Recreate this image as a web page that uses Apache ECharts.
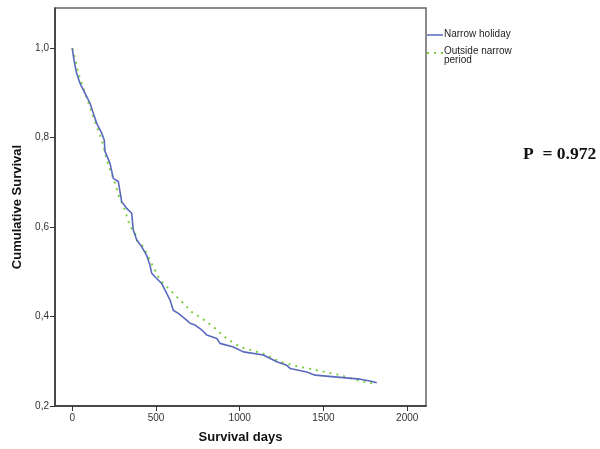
<!DOCTYPE html>
<html>
<head>
<meta charset="utf-8">
<script src="https://cdn.jsdelivr.net/npm/echarts@6/dist/echarts.min.js"></script>
<style>
  html, body { margin: 0; padding: 0; background: #fff; }
  #main { width: 600px; height: 449px; }
</style>
</head>
<body>
<div id="main"></div>
<script>
// survival curves
var daysNarrow = [0, 10, 26, 46, 66, 86, 106, 125, 146, 176, 191, 195, 225, 245, 275, 295, 325, 355, 364, 385, 415, 444, 464, 474, 494, 534, 554, 584, 603, 633, 683, 703, 733, 773, 803, 863, 882, 962, 1022, 1141, 1221, 1281, 1301, 1400, 1450, 1599, 1719, 1778, 1818];
var survNarrow = [1.0, 0.974, 0.944, 0.922, 0.907, 0.892, 0.877, 0.855, 0.832, 0.810, 0.795, 0.770, 0.743, 0.709, 0.702, 0.657, 0.642, 0.631, 0.594, 0.571, 0.556, 0.537, 0.515, 0.497, 0.489, 0.474, 0.459, 0.437, 0.414, 0.407, 0.392, 0.385, 0.381, 0.370, 0.359, 0.351, 0.340, 0.332, 0.321, 0.314, 0.299, 0.291, 0.284, 0.276, 0.269, 0.264, 0.260, 0.256, 0.252];

var daysOutside = [0, 26, 36, 52, 66, 146, 165, 179, 215, 235, 265, 275, 315, 329, 345, 375, 385, 424, 484, 524, 564, 603, 643, 683, 723, 763, 842, 922, 1002, 1141, 1241, 1330, 1460, 1599, 1699, 1798];
var survOutside = [1.0, 0.963, 0.944, 0.926, 0.911, 0.825, 0.806, 0.791, 0.739, 0.720, 0.687, 0.672, 0.638, 0.620, 0.602, 0.586, 0.571, 0.556, 0.511, 0.482, 0.467, 0.452, 0.437, 0.422, 0.407, 0.399, 0.377, 0.351, 0.332, 0.317, 0.299, 0.290, 0.280, 0.269, 0.258, 0.250];

var xTicks = [0, 500, 1000, 1500, 2000];
var yTicks = [0.2, 0.4, 0.6, 0.8, 1.0];

function pairs(xs, ys) {
  var out = [];
  for (var i = 0; i < xs.length; i++) out.push([xs[i], ys[i]]);
  return out;
}

var chart = echarts.init(document.getElementById('main'));

chart.setOption({
  backgroundColor: '#ffffff',
  animation: false,
  textStyle: { fontFamily: 'Liberation Sans, Arial, sans-serif' },
  grid: {
    left: 55,
    top: 8,
    right: 174,
    bottom: 43,
    show: true,
    borderColor: '#666',
    borderWidth: 1.5
  },
  xAxis: {
    type: 'value',
    min: -103,
    max: 2112,
    name: 'Survival days',
    nameLocation: 'middle',
    nameGap: 25,
    nameTextStyle: { fontSize: 13, fontWeight: 'bold', color: '#111' },
    axisLine: { show: true, onZero: false, lineStyle: { color: '#333', width: 1.5 } },
    axisTick: { show: true, length: 5, customValues: xTicks, lineStyle: { color: '#333' } },
    axisLabel: {
      customValues: xTicks,
      fontSize: 10,
      color: '#333',
      margin: 7,
      formatter: function (v) { return String(v); }
    },
    splitLine: { show: false }
  },
  yAxis: {
    type: 'value',
    min: 0.2,
    max: 1.09,
    name: 'Cumulative Survival',
    nameLocation: 'middle',
    nameGap: 31,
    nameTextStyle: { fontSize: 13, fontWeight: 'bold', color: '#111' },
    axisLine: { show: true, onZero: false, lineStyle: { color: '#333', width: 1.5 } },
    axisTick: { show: true, length: 5, customValues: yTicks, lineStyle: { color: '#333' } },
    axisLabel: {
      customValues: yTicks,
      fontSize: 10,
      color: '#333',
      margin: 6,
      formatter: function (v) { return v.toFixed(1).replace('.', ','); }
    },
    splitLine: { show: false }
  },
  series: [
    {
      name: 'Narrow holiday',
      type: 'line',
      showSymbol: false,
      data: pairs(daysNarrow, survNarrow),
      lineStyle: { color: '#5a69bd', width: 1.6 },
      z: 3
    },
    {
      name: 'Outside narrow period',
      type: 'line',
      showSymbol: false,
      data: pairs(daysOutside, survOutside),
      lineStyle: { color: '#7cd03e', width: 2, type: [2, 5] },
      z: 2
    }
  ],
  graphic: [
    // legend
    { type: 'line', shape: { x1: 427, y1: 35, x2: 443, y2: 35 }, style: { stroke: '#5a69bd', lineWidth: 1.5 } },
    { type: 'text', left: 444, top: 29, style: { text: 'Narrow holiday', fontSize: 10, fill: '#222', fontFamily: 'Liberation Sans, Arial, sans-serif' } },
    { type: 'line', shape: { x1: 427, y1: 53, x2: 443, y2: 53 }, style: { stroke: '#7cd03e', lineWidth: 2, lineDash: [2, 5] } },
    { type: 'text', left: 444, top: 46, style: { text: 'Outside narrow\nperiod', fontSize: 10, lineHeight: 9, fill: '#222', fontFamily: 'Liberation Sans, Arial, sans-serif' } },
    // p-value
    { type: 'text', left: 523, top: 145, style: { text: 'P  = 0.972', fontSize: 17.5, fontWeight: 'bold', fill: '#111', fontFamily: 'Liberation Serif, serif' } }
  ]
});
</script>
</body>
</html>
